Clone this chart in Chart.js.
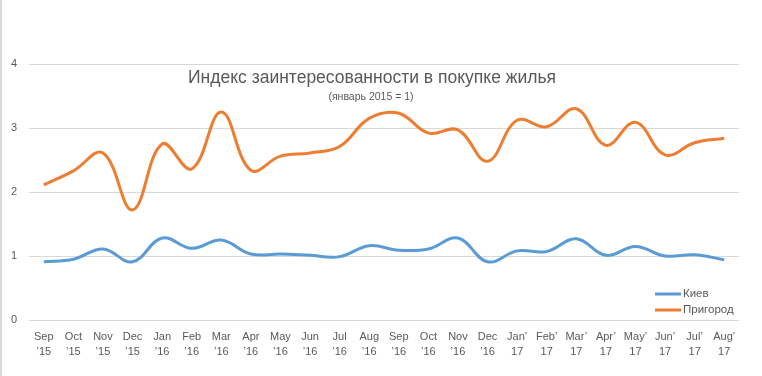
<!DOCTYPE html>
<html>
<head>
<meta charset="utf-8">
<script src="https://cdn.jsdelivr.net/npm/chart.js@4.4.0/dist/chart.umd.min.js"></script>
<style>
    html, body { margin: 0; padding: 0; background: #fff; }
    #wrap { width: 762px; height: 376px; position: relative; }
</style>
</head>
<body>
<div id="wrap"><canvas id="chart01"></canvas></div>
<script>
// month labels, two lines each
const monthLabels = [
    ['Sep', '’15'], ['Oct', '’15'], ['Nov', '’15'], ['Dec', '’15'],
    ['Jan', '’16'], ['Feb', '’16'], ['Mar', '’16'], ['Apr', '’16'],
    ['May', '’16'], ['Jun', '’16'], ['Jul', '’16'], ['Aug', '’16'],
    ['Sep', '’16'], ['Oct', '’16'], ['Nov', '’16'], ['Dec', '’16'],
    ['Jan’', '17'], ['Feb’', '17'], ['Mar’', '17'], ['Apr’', '17'],
    ['May’', '17'], ['Jun’', '17'], ['Jul’', '17'], ['Aug’', '17'],
];
const kievValues = [
    0.91, 0.95, 1.11, 0.91, 1.28, 1.12, 1.25, 1.03, 1.03, 1.01, 0.99, 1.16,
    1.09, 1.11, 1.28, 0.91, 1.08, 1.07, 1.27, 1.01, 1.15, 1.00, 1.02, 0.94,
];
const suburbValues = [
    2.11, 2.33, 2.61, 1.72, 2.75, 2.36, 3.25, 2.34, 2.56, 2.61, 2.71, 3.15,
    3.23, 2.92, 2.97, 2.48, 3.12, 3.02, 3.30, 2.73, 3.09, 2.58, 2.77, 2.84,
];
const yTicks = [0, 1, 2, 3, 4];
const titleText = 'Индекс заинтересованности в покупке жилья';
const subtitleText = '(январь 2015 = 1)';

const BLUE = '#5b9bd5';
const ORANGE = '#ed7d31';
const TEXT = '#595959';
const GRID = '#d9d9d9';
const FONT = '"Liberation Sans", "DejaVu Sans", sans-serif';

// title, legend and frame drawn over the plot
const decorPlugin = {
    id: 'decor',
    beforeDraw(chart) {
        const { ctx } = chart;
        ctx.save();
        ctx.fillStyle = '#d9d9d9';
        ctx.fillRect(0, 0, 2, chart.height);
        ctx.restore();
    },
    afterDraw(chart) {
        const { ctx } = chart;
        ctx.save();
        ctx.fillStyle = TEXT;
        ctx.textAlign = 'center';
        ctx.textBaseline = 'middle';
        ctx.font = `17.5px ${FONT}`;
        ctx.fillText(titleText, 372, 78);
        ctx.font = `10.5px ${FONT}`;
        ctx.fillText(subtitleText, 371, 97);

        const items = [
            { label: 'Киев', color: BLUE, y: 294 },
            { label: 'Пригород', color: ORANGE, y: 310 },
        ];
        ctx.textAlign = 'left';
        ctx.font = `11.5px ${FONT}`;
        items.forEach((it) => {
            ctx.strokeStyle = it.color;
            ctx.lineWidth = 3;
            ctx.beginPath();
            ctx.moveTo(655, it.y);
            ctx.lineTo(681, it.y);
            ctx.stroke();
            ctx.fillStyle = TEXT;
            ctx.fillText(it.label, 683, it.y);
        });
        ctx.restore();
    },
};

const ctx = document.getElementById('chart01').getContext('2d');
const chart = new Chart(ctx, {
    type: 'line',
    data: {
        labels: monthLabels,
        datasets: [
            {
                label: 'Киев',
                data: kievValues,
                borderColor: BLUE,
                borderWidth: 3,
                pointRadius: 0,
                tension: 0.4,
            },
            {
                label: 'Пригород',
                data: suburbValues,
                borderColor: ORANGE,
                borderWidth: 3,
                pointRadius: 0,
                tension: 0.4,
            },
        ],
    },
    options: {
        responsive: true,
        maintainAspectRatio: false,
        animation: false,
        layout: {
            padding: { top: 64, right: 23, left: 0, bottom: 0 },
        },
        plugins: {
            legend: { display: false },
            title: { display: false },
            tooltip: { enabled: false },
        },
        scales: {
            x: {
                offset: true,
                grid: { display: false },
                border: { display: false },
                ticks: {
                    color: TEXT,
                    font: { family: FONT, size: 11, lineHeight: 1.4 },
                    maxRotation: 0,
                    autoSkip: false,
                    padding: 1,
                },
                afterFit(scale) {
                    scale.height = 56;
                },
            },
            y: {
                min: 0,
                max: 4,
                afterBuildTicks(scale) {
                    scale.ticks = yTicks.map((v) => ({ value: v }));
                },
                grid: { color: GRID, drawTicks: false },
                border: { display: false },
                ticks: {
                    color: TEXT,
                    font: { family: FONT, size: 11 },
                    padding: 12,
                },
                afterFit(scale) {
                    scale.width = 29;
                },
            },
        },
    },
    plugins: [decorPlugin],
});
</script>
</body>
</html>
